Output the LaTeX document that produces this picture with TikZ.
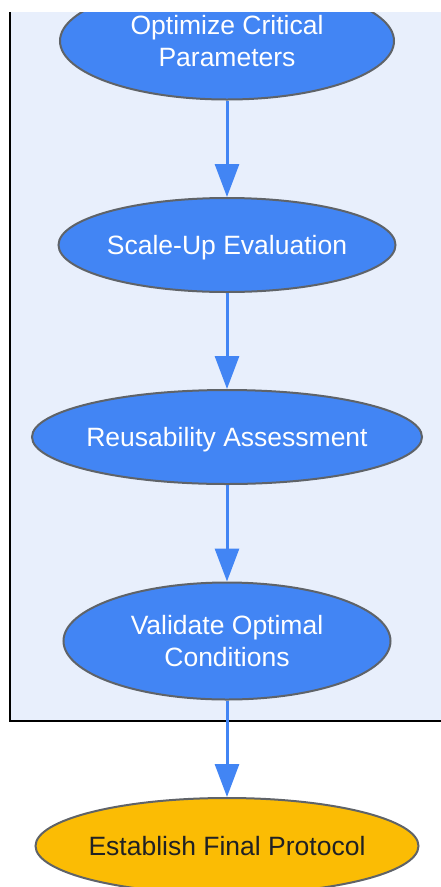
\documentclass[tikz,border=0pt]{standalone}
\usepackage{fontspec}
\setmainfont{Liberation Sans}
\usetikzlibrary{arrows.meta,shapes.geometric}
\definecolor{nodeblue}{HTML}{4285F4}
\definecolor{nodeyellow}{HTML}{FBBC04}
\definecolor{strokegrey}{HTML}{5F6368}
\definecolor{clusterfill}{HTML}{E8EFFC}
\definecolor{darktext}{HTML}{202124}
\tikzset{
  x=1pt, y=-1pt,
  stepnode/.style={ellipse, draw=strokegrey, line width=2pt, fill=nodeblue, text=white,
    align=center, inner sep=-60pt, font=\fontsize{26.5}{32}\selectfont},
  oneline/.style={text depth=0pt},
  finalnode/.style={stepnode, fill=nodeyellow, text=darktext},
  flow/.style={draw=nodeblue, line width=3pt, -{Triangle[length=33pt,width=24pt]}, shorten >=0pt}
}
\begin{document}
\begin{tikzpicture}
\useasboundingbox (0,0) rectangle (441,887);
\begin{scope}
\clip (0,12) rectangle (441,887);
\fill[clusterfill] (10,12) rectangle (445,721);
\draw[black, line width=2.2pt] (10,10) -- (10,721) -- (445,721);
\node[stepnode, minimum width=334pt, minimum height=117pt] (a) at (227,41) {Optimize Critical\\Parameters};
\node[stepnode, oneline, minimum width=337pt, minimum height=94pt] (b) at (227,245) {Scale-Up Evaluation};
\node[stepnode, oneline, minimum width=390pt, minimum height=94pt] (c) at (227,437) {Reusability Assessment};
\node[stepnode, minimum width=327pt, minimum height=117pt] (d) at (227,641) {Validate Optimal\\Conditions};
\node[finalnode, oneline, minimum width=383pt, minimum height=96pt] (e) at (227,846) {Establish Final Protocol};
\draw[flow] (a) -- (b);
\draw[flow] (b) -- (c);
\draw[flow] (c) -- (d);
\draw[flow] (d) -- (e);
\end{scope}
\end{tikzpicture}
\end{document}
